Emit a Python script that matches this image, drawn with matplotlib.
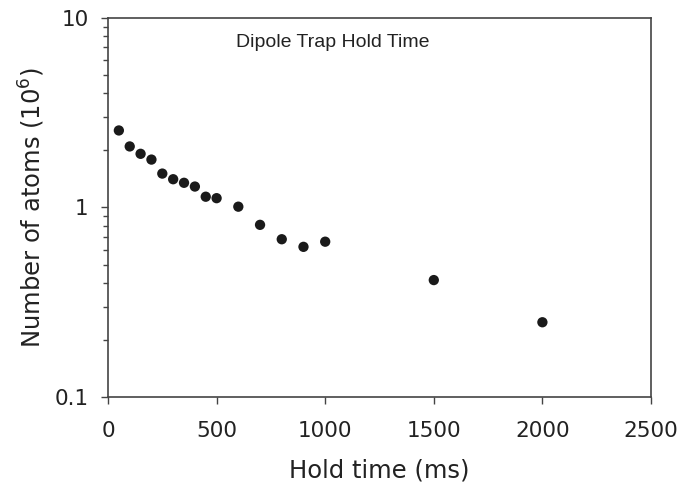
import matplotlib
matplotlib.use("Agg")
import matplotlib.pyplot as plt
from matplotlib.ticker import LogLocator, FixedLocator, NullFormatter

hold_time = [50, 100, 150, 200, 250, 300, 350, 400, 450, 500, 600, 700, 800, 900, 1000, 1500, 2000]
atoms = [2.55, 2.10, 1.92, 1.79, 1.51, 1.41, 1.35, 1.29, 1.14, 1.12, 1.01, 0.81, 0.68, 0.62, 0.66, 0.414, 0.248]
x_ticks = [0, 500, 1000, 1500, 2000, 2500]
y_ticks = [0.1, 1, 10]
y_tick_labels = ["0.1", "1", "10"]

plt.rcParams['font.family'] = ['DejaVu Sans']

fig = plt.figure(figsize=(6.94, 4.91), dpi=100)
ax = fig.add_axes([108/694, 1-397/491, (651-108)/694, (397-18)/491])

ax.scatter(hold_time, atoms, s=55, color='#1a1a1a', edgecolors='none', zorder=3)

ax.set_yscale('log')
ax.set_xlim(0, 2500)
ax.set_ylim(0.1, 10)
ax.xaxis.set_major_locator(FixedLocator(x_ticks))
ax.yaxis.set_major_locator(FixedLocator(y_ticks))
ax.set_yticklabels(y_tick_labels)
ax.yaxis.set_minor_locator(LogLocator(base=10, subs=range(2, 10)))
ax.yaxis.set_minor_formatter(NullFormatter())

for sp in ax.spines.values():
    sp.set_color('#444444')
    sp.set_linewidth(1.2)

ax.tick_params(axis='both', which='major', direction='out', length=5, width=1, color='#444444',
               labelsize=15.5, labelcolor='#222222', pad=12, top=False, right=False)
ax.tick_params(axis='y', which='minor', direction='out', length=3.5, width=1, color='#444444')
ax.tick_params(axis='y', which='major', pad=9)

ax.set_xlabel('Hold time (ms)', fontsize=17.5, color='#222222', labelpad=13)
ax.set_ylabel('Number of atoms (10$^6$)', fontsize=17.5, color='#222222', labelpad=5)

ax.text(0.414, 0.935, 'Dipole Trap Hold Time', transform=ax.transAxes, ha='center', va='center',
        fontsize=14, color='#222222', family=['Liberation Sans', 'DejaVu Sans'])

fig.savefig('out.png', dpi=100)
